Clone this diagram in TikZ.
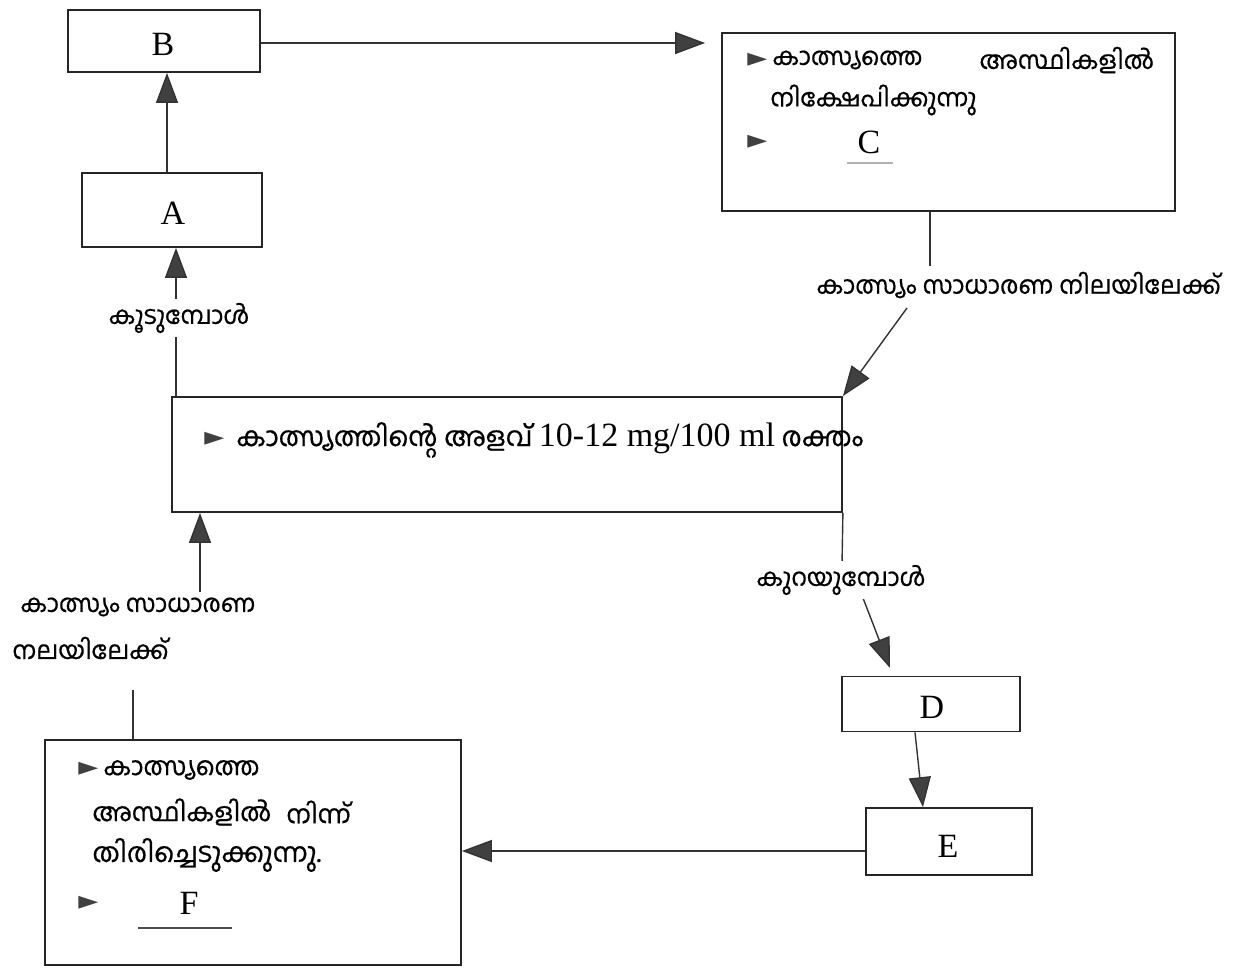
\documentclass[tikz,border=0pt]{standalone}
\usepackage{fontspec}
\setmainfont{Liberation Serif}
\newfontfamily\mlf[Script=Malayalam, FakeBold=0.6]{Hind Kochi}
\newfontfamily\dvf{DejaVu Sans}
\usetikzlibrary{arrows.meta}
\newcommand{\bul}{{\dvf\fontsize{13}{13}\selectfont\textcolor{black!75}{►}}}
\newcommand{\mls}[1]{\mlf\fontsize{#1}{#1}\selectfont}
\begin{document}
\begin{tikzpicture}[x=0.5pt,y=-0.5pt,
  box/.style={draw=black!85, line width=0.9pt, inner sep=0pt},
  ml/.style={font=\mls{#1}, inner sep=1pt, anchor=west},
  ml/.default=12.5,
  lat/.style={font=\fontsize{17}{20}\selectfont, inner sep=1pt},
  lbl/.style={font=\mls{#1}, inner sep=2pt, fill=white},
  lbl/.default=12,
  arr/.style={draw=black!80, line width=0.7pt, -{Triangle[length=15pt,width=11pt,fill=black!75]}},
  ln/.style={draw=black!80, line width=0.7pt}]
\useasboundingbox[fill=white] (0,0) rectangle (1249,972);

% boxes
\node[box, minimum width=96pt, minimum height=31pt] (B) at (164,41) {};
\node[lat] (Bt) at (163,44) {B};
\node[box, minimum width=90pt, minimum height=37pt] (A) at (172,210) {};
\node[lat] (At) at (173,213) {A};
\node[box, minimum width=226.5pt, minimum height=89pt] (C) at (948.5,122) {};
\node[box, minimum width=335pt, minimum height=57.5pt] (M) at (507,454.5) {};
\node[box, minimum width=89pt, minimum height=27.5pt] (D) at (931,704) {};
\node[lat] (Dt) at (932,707) {D};
\node[box, minimum width=83pt, minimum height=33.5pt] (E) at (949,841.5) {};
\node[lat] (Et) at (948,846) {E};
\node[box, minimum width=208pt, minimum height=112.5pt] (F) at (253,852.5) {};

% texts in C
\node[ml] (c0) at (745,60) {\bul};
\node[ml=12.3] (c1a) at (770,60) {കാത്സ്യത്തെ};
\node[ml=12.5] (c1b) at (977,60) {അസ്ഥികളിൽ};
\node[ml=12.3] (c2) at (768,100) {നിക്ഷേപിക്കുന്നു};
\node[ml] (c3) at (745,142) {\bul};
\node[lat] (Ct) at (869,142) {C};
\draw[black!30, line width=0.6pt] (847,163) -- (893,163);

% text in middle box
\node[ml] (m0) at (202,439) {\bul};
\node[ml=13.5] (m1) at (234,440) {കാത്സ്യത്തിന്റെ അളവ് {\rmfamily\fontsize{17}{20}\selectfont 10-12 mg/100 ml} രക്തം};

% texts in F
\node[ml] (f0) at (76,769) {\bul};
\node[ml=12.8] (f1) at (101,770) {കാത്സ്യത്തെ};
\node[ml=12.8] (f2a) at (90,812) {അസ്ഥികളിൽ};
\node[ml=12.8] (f2b) at (284,812) {നിന്ന്};
\node[ml=13.5] (f3) at (90,855) {തിരിച്ചെടുക്കുന്നു.};
\node[ml] (f4) at (76,903) {\bul};
\node[lat] (Ft) at (189,903) {F};
\draw[black!70, line width=0.6pt] (138,928) -- (232,928);

% connectors
\draw[arr] (A.north -| 167,0) -- (B.south -| 167,0);
\draw[arr] (M.north -| 176,0) -- (A.south -| 176,0);
\node[lbl=12.3] (l1) at (179,318) {കൂടുമ്പോൾ};

\draw[arr, shorten >=8pt] (B.east |- 0,43) -- (C.west |- 0,43);

\coordinate (c1) at (930,266);
\coordinate (c2) at (907,308);
\draw[ln] (C.south -| c1) -- (c1);
\draw[arr] (c2) -- (M.north east);
\node[lbl=12.4, anchor=west] (l2) at (812,285) {കാത്സ്യം സാധാരണ നിലയിലേക്ക്};

\coordinate (d1) at (842,565);
\coordinate (d2) at (863,598);
\coordinate (d3) at (890,668);
\draw[ln] (M.south east) -- (d1);
\draw[arr] (d2) -- (d3);
\node[lbl=12.3, anchor=west] (l3) at (752,580) {കുറയുമ്പോൾ};

\draw[arr] (D.south -| 915,0) -- (E.north -| 923,0);

\draw[arr] (E.west |- 0,851) -- (F.east |- 0,851);

\coordinate (g1) at (133,690);
\coordinate (g2) at (200,592);
\draw[ln] (F.north -| g1) -- (g1);
\draw[arr] (g2) -- (M.south -| g2);
\node[lbl=12.3, anchor=west, fill=none] (l4a) at (16,607) {കാത്സ്യം സാധാരണ};
\node[lbl=12.5, anchor=west, fill=none] (l4b) at (8,648) {നലയിലേക്ക്};
\end{tikzpicture}
\end{document}
